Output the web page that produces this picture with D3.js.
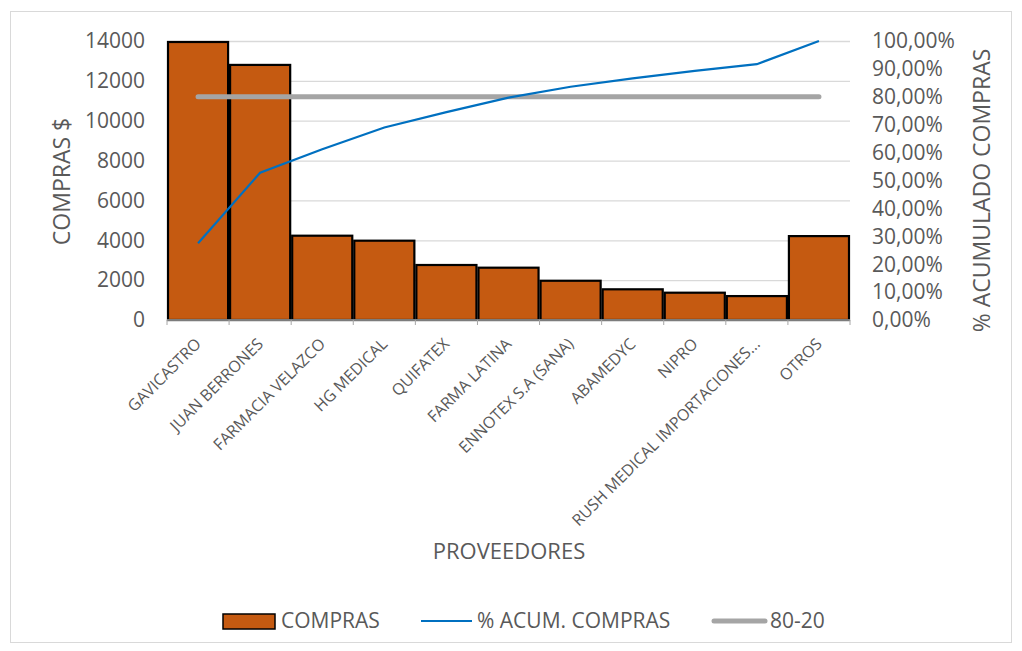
<!DOCTYPE html>
<html>
<head>
<meta charset="utf-8">
<script src="https://cdn.jsdelivr.net/npm/d3@7/dist/d3.min.js"></script>
<style>
  body { margin: 0; background: #fff; }
  text { font-family: "Open Sans", sans-serif; fill: #595959; }
</style>
</head>
<body>
<svg width="1022" height="651"></svg>
<script>
// data
var proveedores = ["GAVICASTRO", "JUAN BERRONES", "FARMACIA VELAZCO", "HG MEDICAL", "QUIFATEX",
  "FARMA LATINA", "ENNOTEX S.A (SANA)", "ABAMEDYC", "NIPRO", "RUSH MEDICAL IMPORTACIONES...", "OTROS"];
var compras = [13950, 12800, 4230, 3980, 2760, 2625, 1970, 1540, 1370, 1200, 4210];
var acumulado = [0.275, 0.528, 0.612, 0.690, 0.745, 0.797, 0.836, 0.866, 0.893, 0.917, 1.0];
var corte = [0.8, 0.8, 0.8, 0.8, 0.8, 0.8, 0.8, 0.8, 0.8, 0.8, 0.8];
var leftTicks = [0, 2000, 4000, 6000, 8000, 10000, 12000, 14000];
var rightTicks = [0, 0.1, 0.2, 0.3, 0.4, 0.5, 0.6, 0.7, 0.8, 0.9, 1.0];

var svg = d3.select("svg");
var margin = {left: 167, right: 172, top: 41, bottom: 331};
var width = 1022 - margin.left - margin.right,
    height = 651 - margin.top - margin.bottom;

// chart frame
svg.append("rect")
  .attr("x", 10.5).attr("y", 11.5).attr("width", 1001).attr("height", 631)
  .attr("fill", "none").attr("stroke", "#d9d9d9");

var g = svg.append("g").attr("transform", "translate(" + margin.left + "," + margin.top + ")");

var x = d3.scaleBand().domain(proveedores).range([0, width]).padding(0);
var y = d3.scaleLinear().domain([0, 14000]).range([height, 0]);
var y2 = d3.scaleLinear().domain([0, 1]).range([height, 0]);

// gridlines
g.append("g")
  .call(d3.axisLeft(y).tickValues(leftTicks).tickSize(-width).tickFormat(""))
  .call(function(s) {
    s.select(".domain").remove();
    s.selectAll("line").attr("stroke", "#d9d9d9").attr("stroke-width", 1.3);
  });

// bars
g.selectAll(".bar")
  .data(compras)
  .enter().append("rect")
  .attr("class", "bar")
  .attr("x", function(d, i) { return x(proveedores[i]) + 1; })
  .attr("width", x.bandwidth() - 2)
  .attr("y", function(d) { return y(d); })
  .attr("height", function(d) { return height - y(d); })
  .attr("fill", "#c55a11")
  .attr("stroke", "#000")
  .attr("stroke-width", 2.2);

// x axis with boundary ticks
var xAxis = g.append("g").attr("transform", "translate(0," + height + ")");
xAxis.append("line")
  .attr("x1", 0).attr("x2", width)
  .attr("stroke", "#a6a6a6").attr("stroke-width", 1.3);
xAxis.selectAll(".tk")
  .data(proveedores.concat(["end"]))
  .enter().append("line")
  .attr("x1", function(d, i) { return i * x.step(); })
  .attr("x2", function(d, i) { return i * x.step(); })
  .attr("y1", 0).attr("y2", 5)
  .attr("stroke", "#a6a6a6");
xAxis.selectAll(".lbl")
  .data(proveedores)
  .enter().append("text")
  .attr("text-anchor", "end")
  .attr("transform", function(d) {
    return "translate(" + (x(d) + x.bandwidth() / 2 + 4) + ",25) rotate(-45)";
  })
  .style("font-size", "16px")
  .text(function(d) { return d; });

// left axis labels
g.selectAll(".ly")
  .data(leftTicks)
  .enter().append("text")
  .attr("x", -22)
  .attr("y", function(d) { return y(d); })
  .attr("dy", "0.35em")
  .attr("text-anchor", "end")
  .style("font-size", "21px")
  .text(function(d) { return d; });

// right axis labels
var pct = function(d) { return d3.format(".2f")(d * 100).replace(".", ",") + "%"; };
g.selectAll(".ry")
  .data(rightTicks)
  .enter().append("text")
  .attr("x", width + 22)
  .attr("y", function(d) { return y2(d); })
  .attr("dy", "0.35em")
  .style("font-size", "21px")
  .text(pct);

// 80-20 line
var line = d3.line()
  .x(function(d, i) { return x(proveedores[i]) + x.bandwidth() / 2; })
  .y(function(d) { return y2(d); });

g.append("path")
  .datum(corte)
  .attr("d", line)
  .attr("fill", "none")
  .attr("stroke", "#a5a5a5")
  .attr("stroke-width", 5)
  .attr("stroke-linecap", "round");

// cumulative line
g.append("path")
  .datum(acumulado)
  .attr("d", line)
  .attr("fill", "none")
  .attr("stroke", "#0070c0")
  .attr("stroke-width", 2.2);

// axis titles
svg.append("text")
  .attr("transform", "translate(70," + (margin.top + height / 2 + 1) + ") rotate(-90)")
  .attr("text-anchor", "middle")
  .style("font-size", "23px")
  .text("COMPRAS $");

svg.append("text")
  .attr("transform", "translate(990," + (margin.top + height / 2 + 10) + ") rotate(-90)")
  .attr("text-anchor", "middle")
  .style("font-size", "23px")
  .text("% ACUMULADO COMPRAS");

svg.append("text")
  .attr("x", 509).attr("y", 559)
  .attr("text-anchor", "middle")
  .style("font-size", "22px")
  .text("PROVEEDORES");

// legend
var legend = svg.append("g").attr("transform", "translate(0,621)");
legend.append("rect")
  .attr("x", 223).attr("y", -7).attr("width", 52).attr("height", 15)
  .attr("fill", "#c55a11").attr("stroke", "#000").attr("stroke-width", 1.5);
legend.append("text").attr("x", 281).attr("y", 0).attr("dy", "0.35em")
  .style("font-size", "21px").text("COMPRAS");
legend.append("line")
  .attr("x1", 421).attr("x2", 472).attr("y1", 0).attr("y2", 0)
  .attr("stroke", "#0070c0").attr("stroke-width", 2.2);
legend.append("text").attr("x", 477).attr("y", 0).attr("dy", "0.35em")
  .style("font-size", "21px").text("% ACUM. COMPRAS");
legend.append("line")
  .attr("x1", 714).attr("x2", 765).attr("y1", 0).attr("y2", 0)
  .attr("stroke", "#a5a5a5").attr("stroke-width", 5).attr("stroke-linecap", "round");
legend.append("text").attr("x", 770).attr("y", 0).attr("dy", "0.35em")
  .style("font-size", "21px").text("80-20");
</script>
</body>
</html>
